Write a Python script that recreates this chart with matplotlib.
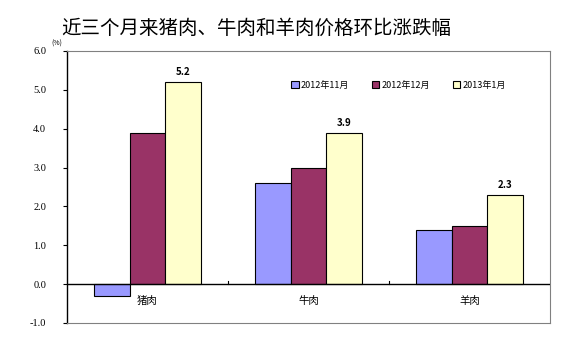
import matplotlib
matplotlib.use("Agg")
import matplotlib.pyplot as plt
import numpy as np

plt.rcParams['font.family'] = ['Noto Sans CJK SC', 'DejaVu Sans']

# ---------- DATA ----------
categories = ['猪肉', '牛肉', '羊肉']
series_names = ['2012年11月', '2012年12月', '2013年1月']
nov_2012 = [-0.3, 2.6, 1.4]
dec_2012 = [3.9, 3.0, 1.5]
jan_2013 = [5.2, 3.9, 2.3]
colors = ['#9999FF', '#993366', '#FFFFCC']

series = [nov_2012, dec_2012, jan_2013]

# ---------- PLOT ----------
fig = plt.figure(figsize=(5.76, 3.51), dpi=100)
ax = fig.add_axes([0.1163, 0.0798, 0.8385, 0.775])

x = np.arange(len(categories))
w = 0.22
for i, vals in enumerate(series):
    ax.bar(x + (i - 1) * w, vals, width=w, color=colors[i],
           edgecolor='black', linewidth=0.8, label=series_names[i], zorder=2)

# value labels only on the latest month
for xi, v in zip(x, jan_2013):
    ax.text(xi + w, v + 0.12, f'{v:.1f}', ha='center', va='bottom',
            fontsize=7, fontweight='bold')

ax.set_xlim(-0.5, 2.5)
ax.set_ylim(-1.0, 6.0)
ax.axhline(0, color='black', linewidth=1.0, zorder=3)

# category labels sit just under the zero line
for xi, c in zip(x, categories):
    ax.text(xi, -0.3, c, ha='center', va='top', fontsize=7.5)

# small ticks on zero line at group boundaries
for b in [0.5, 1.5]:
    ax.plot([b, b], [0, 0.08], color='black', linewidth=0.8, zorder=3)

ax.set_xticks([])
ax.set_yticks(np.arange(-1, 6.1, 1))
ax.set_yticklabels([f'{t:.1f}' for t in np.arange(-1, 6.1, 1)], fontsize=7.5,
                   family=['Liberation Serif', 'DejaVu Serif'])
ax.tick_params(axis='y', direction='out', length=3, width=0.8, pad=12)

for s in ['top', 'right', 'bottom']:
    ax.spines[s].set_color('#808080')
    ax.spines[s].set_linewidth(0.8)
ax.spines['left'].set_color('black')
ax.spines['left'].set_linewidth(1.0)

leg = ax.legend(loc='upper right', bbox_to_anchor=(0.925, 0.92), ncol=3,
                frameon=False, fontsize=6.5, handlelength=0.8,
                handleheight=0.8, handletextpad=0.2, columnspacing=2.6)

fig.text(0.445, 0.92, '近三个月来猪肉、牛肉和羊肉价格环比涨跌幅', ha='center',
         va='center', fontsize=14)
fig.text(0.099, 0.877, '(%)', ha='center', va='center', fontsize=5)

fig.savefig('out.png', dpi=100)
